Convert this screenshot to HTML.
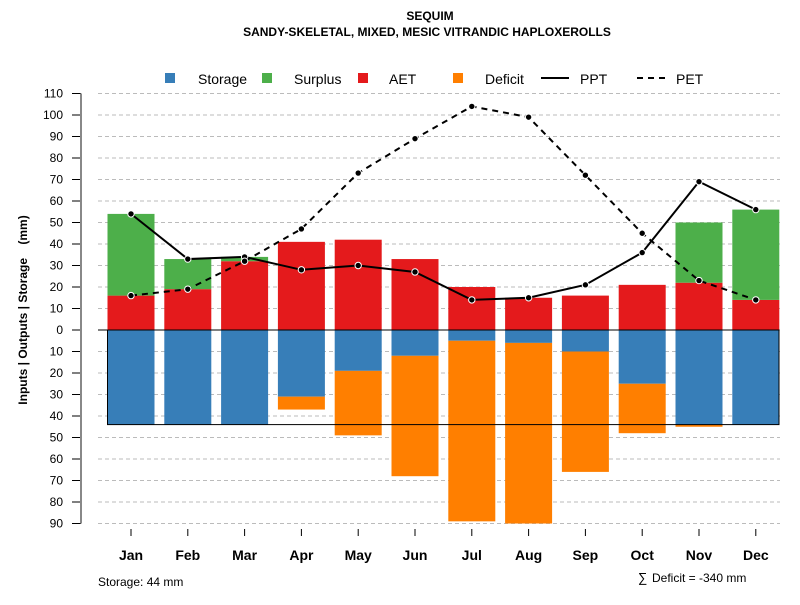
<!DOCTYPE html>
<html><head><meta charset="utf-8"><style>
body{margin:0;background:#fff;}
svg text{font-family:"Liberation Sans",Arial,sans-serif;}
</style></head><body>
<svg id="chart" width="800" height="600" xmlns="http://www.w3.org/2000/svg">
<text x="430" y="20" text-anchor="middle" font-size="12" font-weight="bold">SEQUIM</text>
<text x="427" y="36" text-anchor="middle" font-size="12" font-weight="bold">SANDY-SKELETAL, MIXED, MESIC VITRANDIC HAPLOXEROLLS</text>
<g id="legend">
<rect x="165" y="73" width="10" height="10" fill="#377eb8"/>
<text x="198" y="84" font-size="14">Storage</text>
<rect x="262" y="73" width="10" height="10" fill="#4daf4a"/>
<text x="294" y="84" font-size="14">Surplus</text>
<rect x="358" y="73" width="10" height="10" fill="#e41a1c"/>
<text x="389" y="84" font-size="14">AET</text>
<rect x="453" y="73" width="10" height="10" fill="#ff7f00"/>
<text x="485" y="84" font-size="14">Deficit</text>
<line x1="541" y1="78" x2="569" y2="78" stroke="#000" stroke-width="2"/>
<text x="580" y="84" font-size="14">PPT</text>
<line x1="637" y1="78" x2="665" y2="78" stroke="#000" stroke-width="2" stroke-dasharray="6,5"/>
<text x="676" y="84" font-size="14">PET</text>
</g>
<text transform="translate(27,310) rotate(-90)" text-anchor="middle" font-size="12" font-weight="bold">Inputs | Outputs | Storage&#160;&#160;&#160;&#160;(mm)</text>
<text x="98" y="586" font-size="12">Storage: 44 mm</text>
<text x="638" y="582" font-size="13">∑</text>
<text x="652" y="582" font-size="12">Deficit = -340 mm</text>
<g id="grid"></g><g id="bars"></g><g id="lines"></g><g id="axes"></g>
</svg>
<script>
const months=["Jan","Feb","Mar","Apr","May","Jun","Jul","Aug","Sep","Oct","Nov","Dec"];
const aet=[16,19,32,41,42,33,20,15,16,21,22,14];
const surplus=[38,14,2,0,0,0,0,0,0,0,28,42];
const storage=[44,44,44,31,19,12,5,6,10,25,44,44];
const deficit=[0,0,0,6,30,56,84,84,56,23,1,0];
const ppt=[54,33,34,28,30,27,14,15,21,36,69,56];
const pet=[16,19,32,47,73,89,104,99,72,45,23,14];
const yTicks=[110,100,90,80,70,60,50,40,30,20,10,0,-10,-20,-30,-40,-50,-60,-70,-80,-90];
const maxStorage=44;
const NS="http://www.w3.org/2000/svg";
const y=v=>330-v*2.15;
const x=i=>131+i*56.8;
const bw=47;
function mk(t,a,p){const e=document.createElementNS(NS,t);for(const k in a)e.setAttribute(k,a[k]);p.appendChild(e);return e;}
const G=document.getElementById('grid'),B=document.getElementById('bars'),L=document.getElementById('lines'),A=document.getElementById('axes');
yTicks.forEach(t=>{
 const g=mk('line',{x1:98,x2:780,y1:y(t),y2:y(t),stroke:'#bbb','stroke-dasharray':'4,3'},G);
 
 
 const tk=mk('line',{x1:72,x2:81,y1:y(t),y2:y(t),stroke:'#000'},A);
 
 
 const tx=mk('text',{x:63,y:y(t)+4,'text-anchor':'end','font-size':12},A);
 tx.textContent=Math.abs(t);
 
 
});
const ax=mk('line',{x1:81,x2:81,y1:y(110),y2:y(-90),stroke:'#888','stroke-width':2},A);


months.forEach((m,i)=>{
 const l=x(i)-bw/2;
 const r1=mk('rect',{x:l,width:bw,y:y(aet[i]),height:aet[i]*2.15,fill:'#e41a1c'},B);
 
 
 if(surplus[i]>0){const r=mk('rect',{x:l,width:bw,y:y(aet[i]+surplus[i]),height:surplus[i]*2.15,fill:'#4daf4a'},B);
  
  }
 const r2=mk('rect',{x:l,width:bw,y:330,height:storage[i]*2.15,fill:'#377eb8'},B);
 
 
 if(deficit[i]>0){const r=mk('rect',{x:l,width:bw,y:y(-storage[i]),height:deficit[i]*2.15,fill:'#ff7f00'},B);
  
  }
 const tk=mk('line',{x1:x(i),x2:x(i),y1:529,y2:536,stroke:'#000'},A);
 
 
 const tx=mk('text',{x:x(i),y:560,'text-anchor':'middle','font-size':14,'font-weight':'bold'},A);
 tx.textContent=m;
 
 
});
const box=mk('rect',{x:107.5,y:330,width:671.5,height:maxStorage*2.15,fill:'none',stroke:'#000','stroke-width':1},B);


const zl=mk('line',{x1:98,x2:779,y1:330,y2:330,stroke:'#000'},B);


[[ppt,'none','ppt'],[pet,'6,5','pet']].forEach(([d,da,n])=>{
 const p=mk('polyline',{points:d.map((v,i)=>x(i)+','+y(v)).join(' '),fill:'none',stroke:'#000','stroke-width':2,'stroke-dasharray':da},L);
 
 
 d.forEach((v,i)=>{const c=mk('circle',{cx:x(i),cy:y(v),r:3.2,fill:'#000',stroke:'#fff','stroke-width':1},L);
  
  });
});
</script>
</body></html>
